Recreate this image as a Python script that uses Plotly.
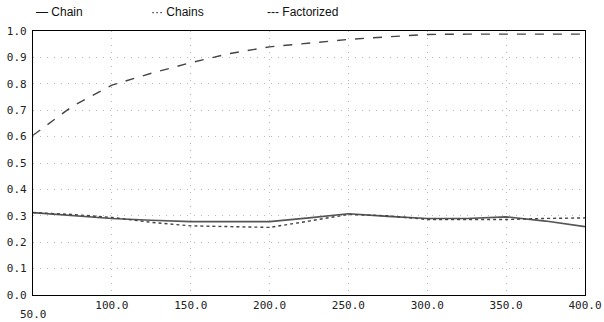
import plotly.graph_objects as go

x_vals = [50, 75, 100, 125, 150, 175, 200, 225, 250, 275, 300, 325, 350, 375, 400]
chain = [0.312, 0.300, 0.290, 0.283, 0.278, 0.278, 0.278, 0.292, 0.308, 0.298, 0.290, 0.290, 0.296, 0.280, 0.259]
chains = [0.312, 0.305, 0.294, 0.275, 0.262, 0.260, 0.256, 0.280, 0.305, 0.300, 0.286, 0.286, 0.286, 0.290, 0.292]
factorized = [0.605, 0.715, 0.795, 0.840, 0.880, 0.915, 0.940, 0.955, 0.968, 0.978, 0.987, 0.988, 0.988, 0.988, 0.988]

x_ticks = [50, 100, 150, 200, 250, 300, 350, 400]
x_ticktext = ["50.0", "100.0", "150.0", "200.0", "250.0", "300.0", "350.0", "400.0"]
y_ticks = [0.0, 0.1, 0.2, 0.3, 0.4, 0.5, 0.6, 0.7, 0.8, 0.9, 1.0]
y_ticktext = ["0.0", "0.1", "0.2", "0.3", "0.4", "0.5", "0.6", "0.7", "0.8", "0.9", "1.0"]

legend_names = ["Chain", "Chains", "Factorized"]
legend_marks = ["\u2014", "\u00b7\u00b7\u00b7", "---"]

fig = go.Figure()
fig.add_trace(go.Scatter(x=x_vals, y=chain, mode="lines", name="Chain",
                         line=dict(color="#555555", width=1.6, dash="solid")))
fig.add_trace(go.Scatter(x=x_vals, y=chains, mode="lines", name="Chains",
                         line=dict(color="#444444", width=1.4, dash="dot")))
fig.add_trace(go.Scatter(x=x_vals, y=factorized, mode="lines", name="Factorized",
                         line=dict(color="#444444", width=1.4, dash="dash")))

mono = dict(family="DejaVu Sans Mono", size=11, color="#222222")
grid = dict(showgrid=True, gridcolor="#b8b8b8", griddash="1px,6px", gridwidth=1,
            showline=True, linecolor="black", linewidth=1.2, mirror=True,
            ticks="", tickfont=mono, zeroline=False, automargin=False)
# first x label is drawn one line lower (below the 0.0 label), as in the reference
fig.update_xaxes(range=[50, 400], tickvals=x_ticks[1:], ticktext=x_ticktext[1:], **grid)
fig.update_yaxes(range=[0, 1], tickvals=y_ticks, ticktext=y_ticktext,
                 ticklabelstandoff=3, **grid)

W, H = 604, 322
L, R, T, B = 33, 19, 31, 27
plot_w = W - L - R
plot_h = H - T - B
leg_x = [34, 149, 265]
ann = []
for px, mark, name in zip(leg_x, legend_marks, legend_names):
    ann.append(dict(x=(px - L) / plot_w, y=(H - B - 12) / plot_h,
                    xref="paper", yref="paper", xanchor="left", yanchor="middle",
                    showarrow=False, text=f"{mark} {name}",
                    font=dict(family="Liberation Sans", size=12, color="#111111")))
ann.append(dict(x=x_ticks[0], y=-(314 - (H - B)) / plot_h, xref="x", yref="paper",
                xanchor="center", yanchor="middle", showarrow=False,
                text=x_ticktext[0], font=mono))

fig.update_layout(width=W, height=H, margin=dict(l=L, r=R, t=T, b=B),
                  plot_bgcolor="white", paper_bgcolor="white", showlegend=False,
                  annotations=ann)

fig.write_html("out.html", config={"displayModeBar": False},
               post_script="document.body.style.margin='0px';")
